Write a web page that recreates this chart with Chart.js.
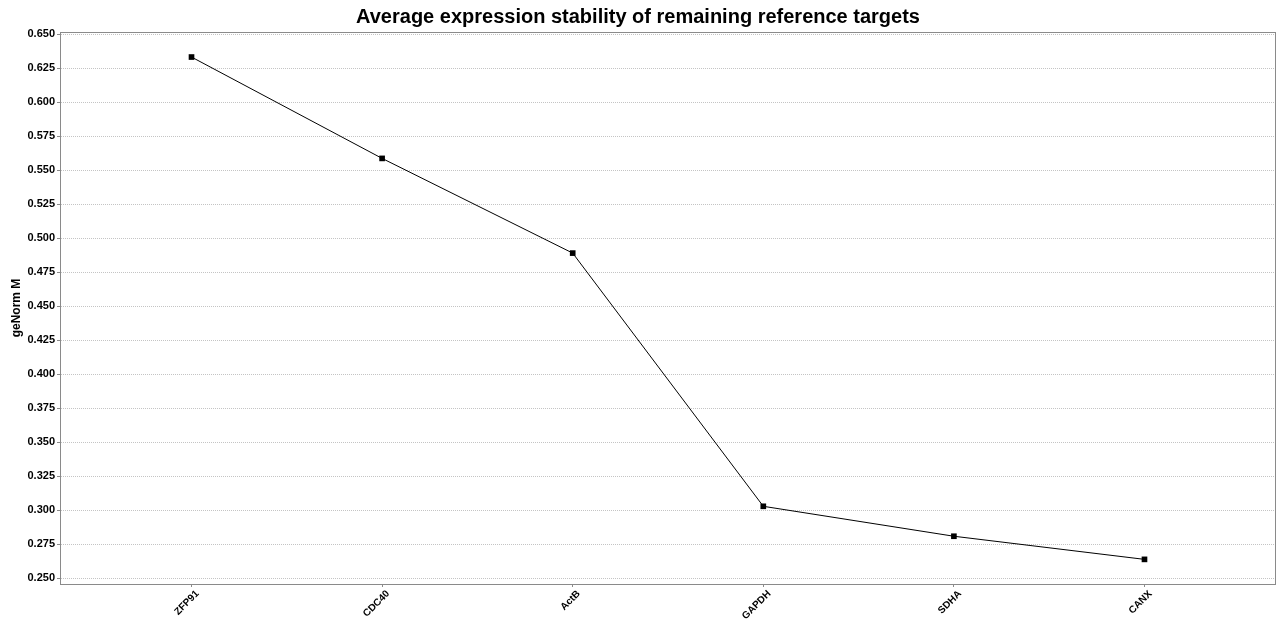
<!DOCTYPE html>
<html>
<head>
<meta charset="utf-8">
<script src="https://cdn.jsdelivr.net/npm/chart.js@4/dist/chart.umd.min.js"></script>
<style>
html,body{margin:0;padding:0;background:#fff;}
canvas{display:block;}
</style>
</head>
<body>
<canvas id="c" width="1276" height="619"></canvas>
<script>
const categories = ["ZFP91", "CDC40", "ActB", "GAPDH", "SDHA", "CANX"];
const geNormM = [0.6331, 0.5586, 0.4890, 0.3029, 0.2809, 0.2639];
const yTickValues = [0.250,0.275,0.300,0.325,0.350,0.375,0.400,0.425,0.450,0.475,0.500,0.525,0.550,0.575,0.600,0.625,0.650];

const FONT = "'Liberation Sans', Arial, Helvetica, sans-serif";

const frame = {
  id: 'frame',
  afterDraw(chart) {
    const a = chart.chartArea, ctx = chart.ctx;
    ctx.save();
    ctx.strokeStyle = '#8a8a8a';
    ctx.lineWidth = 1;
    ctx.setLineDash([]);
    ctx.strokeRect(Math.round(a.left) + 0.5, Math.round(a.top) + 0.5, Math.round(a.right - a.left) - 1, Math.round(a.bottom - a.top));
    ctx.restore();
  }
};

new Chart(document.getElementById('c'), {
  type: 'line',
  data: {
    datasets: [{
      data: categories.map((c, i) => ({x: i, y: geNormM[i]})),
      borderColor: '#000',
      borderWidth: 1,
      pointStyle: 'rect',
      pointRadius: 4,
      pointBackgroundColor: '#000',
      pointBorderColor: '#000',
      pointBorderWidth: 0,
      tension: 0,
      fill: false
    }]
  },
  plugins: [frame],
  options: {
    responsive: false,
    animation: false,
    events: [],
    layout: {autoPadding: false, padding: {left: 0, right: 0, top: 0, bottom: 0}},
    plugins: {
      legend: {display: false},
      tooltip: {enabled: false},
      title: {
        display: true,
        text: 'Average expression stability of remaining reference targets',
        color: '#000',
        font: {family: FONT, size: 20, weight: 'bold'},
        padding: {top: 5, bottom: 3}
      }
    },
    scales: {
      x: {
        type: 'linear',
        min: -0.69,
        max: 5.69,
        afterBuildTicks(scale) { scale.ticks = categories.map((c, i) => ({value: i})); },
        afterFit(scale) { scale.height = 35; scale.paddingRight = 0; scale.paddingLeft = 0; },
        ticks: {
          autoSkip: false,
          maxRotation: 45,
          minRotation: 45,
          padding: 1,
          labelOffset: 6,
          color: '#000',
          font: {family: FONT, size: 10, weight: 'bold'},
          callback: (v) => categories[v]
        },
        grid: {drawOnChartArea: false, drawTicks: true, tickLength: 3, tickColor: '#8a8a8a'},
        border: {display: true, color: '#8a8a8a'}
      },
      y: {
        type: 'linear',
        min: 0.2458,
        max: 0.6515,
        afterBuildTicks(scale) { scale.ticks = yTickValues.map(v => ({value: v})); },
        afterFit(scale) { scale.width = 60; scale.paddingTop = 0; scale.paddingBottom = 0; },
        ticks: {
          padding: 2,
          color: '#000',
          font: {family: FONT, size: 11, weight: 'bold'},
          callback: (v) => v.toFixed(3)
        },
        title: {
          display: true,
          text: 'geNorm M',
          color: '#000',
          font: {family: FONT, size: 12, weight: 'bold'},
          padding: {top: 9, bottom: 0}
        },
        grid: {color: '#c4c4c4', drawTicks: true, tickLength: 3, tickColor: '#8a8a8a'},
        border: {display: true, color: '#8a8a8a', dash: [1, 1]}
      }
    }
  }
});
</script>
</body>
</html>
